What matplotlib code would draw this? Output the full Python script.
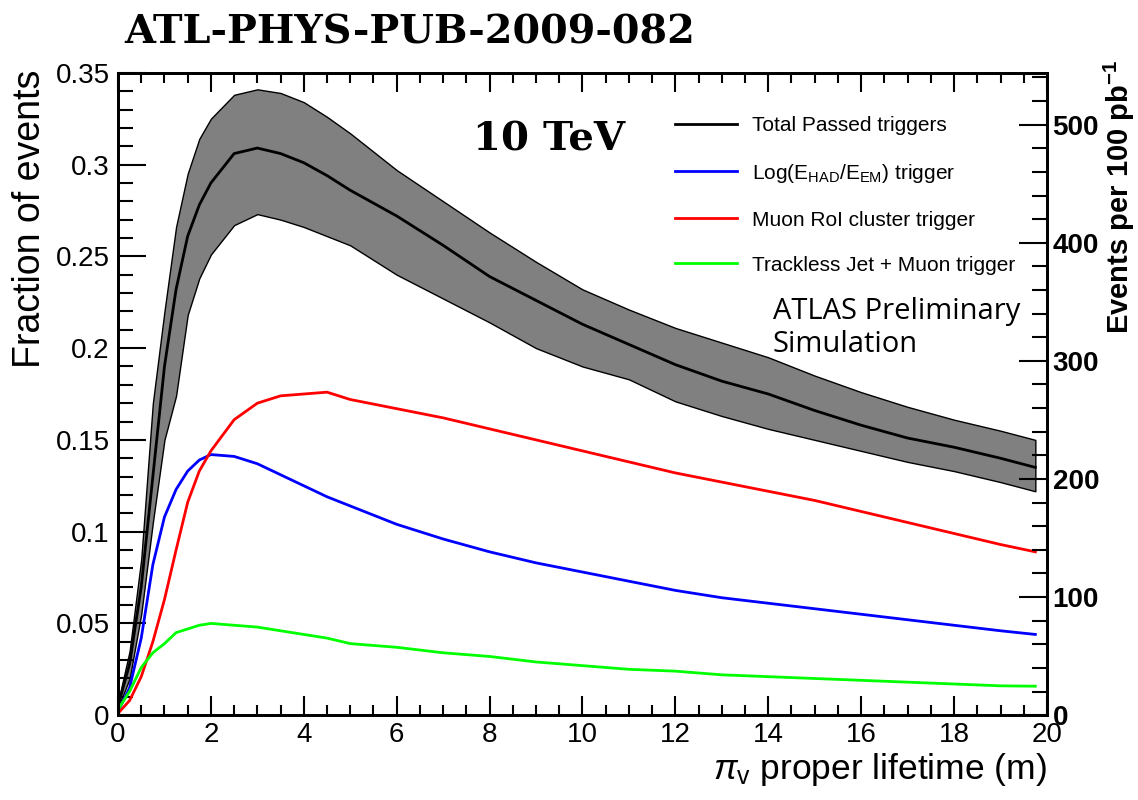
import numpy as np
import matplotlib
matplotlib.use("Agg")
import matplotlib.pyplot as plt

plt.rcParams['font.family'] = ['Liberation Sans', 'DejaVu Sans']
plt.rcParams['mathtext.fontset'] = 'custom'
plt.rcParams['mathtext.rm'] = 'Liberation Sans'
plt.rcParams['mathtext.it'] = 'Liberation Sans:italic'
plt.rcParams['mathtext.bf'] = 'Liberation Sans:bold'

# proper lifetime (m)
lifetime = [0, 0.25, 0.5, 0.75, 1.0, 1.25, 1.5, 1.75, 2.0, 2.5, 3.0, 3.5, 4.0, 4.5, 5.0,
            6, 7, 8, 9, 10, 11, 12, 13, 14, 15, 16, 17, 18, 19, 19.75]

# fraction of events
total = [0.005, 0.028, 0.070, 0.130, 0.190, 0.232, 0.261, 0.278, 0.290, 0.306, 0.309, 0.306,
         0.301, 0.294, 0.286, 0.272, 0.256, 0.239, 0.226, 0.213, 0.202, 0.191, 0.182, 0.175,
         0.166, 0.158, 0.151, 0.146, 0.140, 0.135]
total_up = [0.007, 0.035, 0.085, 0.170, 0.220, 0.266, 0.295, 0.314, 0.325, 0.338, 0.341, 0.339,
            0.334, 0.326, 0.317, 0.297, 0.280, 0.263, 0.247, 0.232, 0.221, 0.211, 0.203, 0.195,
            0.185, 0.176, 0.168, 0.161, 0.155, 0.150]
total_lo = [0.004, 0.020, 0.055, 0.105, 0.150, 0.174, 0.218, 0.238, 0.251, 0.267, 0.273, 0.270,
            0.266, 0.261, 0.256, 0.240, 0.227, 0.214, 0.200, 0.190, 0.183, 0.171, 0.163, 0.156,
            0.150, 0.144, 0.138, 0.133, 0.127, 0.122]
log_had_em = [0.002, 0.015, 0.042, 0.082, 0.108, 0.123, 0.133, 0.139, 0.142, 0.141, 0.137, 0.131,
              0.125, 0.119, 0.114, 0.104, 0.096, 0.089, 0.083, 0.078, 0.073, 0.068, 0.064, 0.061,
              0.058, 0.055, 0.052, 0.049, 0.046, 0.044]
muon_roi = [0.001, 0.008, 0.021, 0.040, 0.063, 0.090, 0.116, 0.133, 0.144, 0.161, 0.170, 0.174,
            0.175, 0.176, 0.172, 0.167, 0.162, 0.156, 0.150, 0.144, 0.138, 0.132, 0.127, 0.122,
            0.117, 0.111, 0.105, 0.099, 0.093, 0.089]
trackless = [0.003, 0.013, 0.026, 0.034, 0.039, 0.045, 0.047, 0.049, 0.050, 0.049, 0.048, 0.046,
             0.044, 0.042, 0.039, 0.037, 0.034, 0.032, 0.029, 0.027, 0.025, 0.024, 0.022, 0.021,
             0.020, 0.019, 0.018, 0.017, 0.016, 0.0158]

events_per_fraction = 1554  # events per 100 pb^-1 for fraction 1

fig = plt.figure(figsize=(11.38, 8.0), dpi=100)
ax = fig.add_axes([0.1037, 0.106, 0.8163, 0.803])

ax.fill_between(lifetime, total_lo, total_up, facecolor='#808080', edgecolor='black', linewidth=1.0)
ax.plot(lifetime, total, color='black', lw=2.0, label='Total Passed triggers')
ax.plot(lifetime, log_had_em, color='#0000ff', lw=2.0,
        label=r'Log(E$_{\mathrm{HAD}}$/E$_{\mathrm{EM}}$) trigger')
ax.plot(lifetime, muon_roi, color='#ff0000', lw=2.0, label='Muon RoI cluster trigger')
ax.plot(lifetime, trackless, color='#00ff00', lw=2.0, label='Trackless Jet + Muon trigger')

ax.set_xlim(0, 20)
ax.set_ylim(0, 0.35)
ax.set_xticks(np.arange(0, 21, 2))
ax.set_xticks(np.arange(0, 20.01, 0.5), minor=True)
ax.set_yticks([0, 0.05, 0.1, 0.15, 0.2, 0.25, 0.3, 0.35])
ax.set_yticklabels(['0', '0.05', '0.1', '0.15', '0.2', '0.25', '0.3', '0.35'])
ax.set_yticks(np.arange(0, 0.351, 0.01), minor=True)
ax.tick_params(axis='x', which='both', direction='in', top=True, labelsize=20, pad=5, width=1.5)
ax.tick_params(axis='x', which='major', length=14)
ax.tick_params(axis='x', which='minor', length=7)
ax.tick_params(axis='y', which='both', direction='in', right=False, labelsize=20, pad=6, width=1.5)
ax.tick_params(axis='y', which='major', length=20)
ax.tick_params(axis='y', which='minor', length=11)
for s in ax.spines.values():
    s.set_linewidth(2.0)

ax.set_ylabel('Fraction of events', fontsize=27, loc='top')
ax.yaxis.set_label_coords(-0.075, 1.005)
ax.set_xlabel(r'$\pi_{\mathrm{v}}$ proper lifetime (m)', fontsize=25.5, loc='right')
ax.xaxis.set_label_coords(1.0, -0.055)

ax2 = ax.twinx()
ax2.set_ylim(0, 0.35 * events_per_fraction)
ax2.set_yticks(np.arange(0, 501, 100))
ax2.set_yticks(np.arange(0, 541, 20), minor=True)
ax2.tick_params(axis='y', which='both', direction='in', labelsize=20, pad=4, width=1.5)
ax2.tick_params(axis='y', which='major', length=20)
ax2.tick_params(axis='y', which='minor', length=11)
for lab in ax2.get_yticklabels():
    lab.set_fontweight('bold')
ax2.set_ylabel(r'Events per 100 pb$^{\mathbf{-1}}$', fontsize=21, fontweight='bold', loc='top')
ax2.yaxis.set_label_coords(1.0585, 1.02)
for s in ax2.spines.values():
    s.set_linewidth(2.0)

ax.legend(loc='upper left', bbox_to_anchor=(0.5905, 0.945), frameon=False, fontsize=15,
          handlelength=3.0, handletextpad=0.7, labelspacing=1.25, borderaxespad=0)

ax.text(0.382, 0.879, '10 TeV', transform=ax.transAxes, fontsize=29, fontweight='bold',
        family='DejaVu Serif')
ax.text(0.705, 0.565, 'ATLAS Preliminary\nSimulation', transform=ax.transAxes, fontsize=21,
        family='Open Sans', linespacing=1.2)
fig.text(0.109, 0.945, 'ATL-PHYS-PUB-2009-082', fontsize=28.6, fontweight='bold',
         family='DejaVu Serif')

fig.savefig('out.png', dpi=100)
